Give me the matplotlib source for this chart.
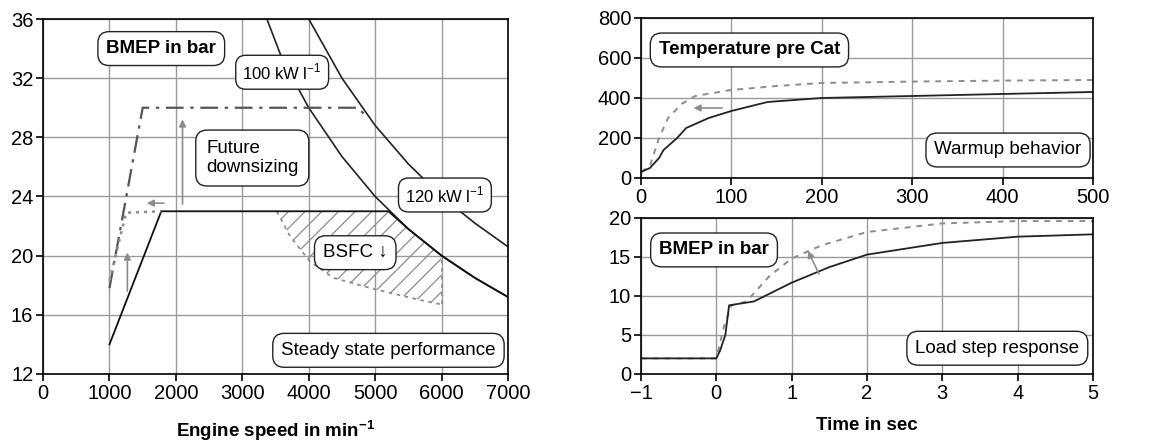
import matplotlib.pyplot as plt
from matplotlib.patches import Polygon

plt.rcParams['font.family'] = ['Liberation Sans', 'DejaVu Sans']
plt.rcParams['hatch.linewidth'] = 0.9

# ---- Steady state (left) ----
rpm_now = [1000, 1780, 5200, 5500, 6000, 6500, 7000]
bmep_now = [14.0, 23.0, 23.0, 21.8, 20.0, 18.5, 17.2]

rpm_future = [1000, 1500, 4730, 4880]
bmep_future = [17.8, 30.0, 30.0, 29.4]

rpm_dot = [1000, 1250, 1780]
bmep_dot = [18.3, 22.9, 23.0]

rpm_100 = [3370, 3600, 4000, 4500, 5000, 5500, 6000, 6500, 7000]
bmep_100 = [36.0, 33.3, 30.0, 26.7, 24.0, 21.8, 20.0, 18.5, 17.2]

rpm_120 = [4000, 4500, 5000, 5500, 6000, 6500, 7000]
bmep_120 = [36.0, 32.0, 28.8, 26.2, 24.0, 22.2, 20.6]

rpm_bsfc = [3520, 3720, 4020, 4370, 5020, 5680, 6000]
bmep_bsfc = [23.0, 21.3, 19.6, 18.5, 17.7, 17.0, 16.7]

# ---- Warmup (right top) ----
t_warm = [0, 10, 20, 25, 40, 50, 75, 100, 140, 200, 300, 400, 500]
temp_now = [30, 50, 100, 140, 200, 250, 300, 335, 380, 400, 410, 420, 430]
t_warm2 = [0, 10, 20, 30, 45, 60, 100, 150, 200, 300, 400, 500]
temp_new = [30, 60, 200, 300, 370, 410, 440, 460, 475, 482, 487, 490]

# ---- Load step (right bottom) ----
t_step = [-1, 0, 0.05, 0.12, 0.17, 0.5, 1.0, 1.5, 2.0, 3.0, 4.0, 5.0]
bmep_step = [2, 2, 3, 5, 8.8, 9.3, 11.7, 13.7, 15.3, 16.8, 17.6, 17.9]
t_step2 = [-1, 0, 0.1, 0.2, 0.4, 0.7, 1.0, 1.4, 2.0, 3.0, 4.0, 5.0]
bmep_step2 = [2, 2, 6, 8.8, 9.3, 12.5, 14.8, 16.5, 18.2, 19.3, 19.6, 19.6]

GRAY = '#8c8c8c'
BOX = dict(boxstyle='round,pad=0.45,rounding_size=0.6', fc='white', ec='#222222', lw=1.0)
FS = 13.5
TFS = 14.5


def style(ax):
    ax.grid(True, color='#9a9a9a', lw=1.0)
    ax.set_axisbelow(True)
    for s in ax.spines.values():
        s.set_linewidth(1.2)
    ax.tick_params(labelsize=TFS, length=5, width=1.2, direction='out', pad=2)


def arrow(ax, x0, y0, x1, y1):
    ax.annotate('', xy=(x1, y1), xytext=(x0, y0),
                arrowprops=dict(arrowstyle='-|>', color=GRAY, lw=1.2, mutation_scale=10))


fig = plt.figure(figsize=(11.66, 4.44), dpi=100)

# left
ax = fig.add_axes([0.0369, 0.1577, 0.3988, 0.7995])
style(ax)
bsfc_poly = list(zip(rpm_bsfc, bmep_bsfc)) + [(6000, 20.0), (5500, 21.8), (5200, 23.0)]
ax.add_patch(Polygon(bsfc_poly, closed=True, fill=False, hatch='//', ec=GRAY, lw=0))
ax.plot(rpm_bsfc, bmep_bsfc, color=GRAY, ls=(0, (2, 2.5)), lw=1.3)
ax.plot([6000, 6000], [16.7, 20.0], color=GRAY, ls=(0, (2, 2.5)), lw=1.3)
ax.plot(rpm_100, bmep_100, color='#222222', lw=1.2)
ax.plot(rpm_120, bmep_120, color='#222222', lw=1.2)
ax.plot(rpm_now, bmep_now, color='#111111', lw=1.3)
ax.plot(rpm_future, bmep_future, color='#555555', lw=1.6, ls=(0, (8, 3, 1.5, 3)))
ax.plot(rpm_dot, bmep_dot, color=GRAY, lw=1.8, ls=(0, (1.2, 2)))
arrow(ax, 1270, 17.4, 1270, 20.4)
arrow(ax, 1860, 23.55, 1520, 23.55)
arrow(ax, 2100, 23.3, 2100, 29.4)
ax.set_xlim(0, 7000)
ax.set_ylim(12, 36)
ax.set_xticks(range(0, 7001, 1000))
ax.set_yticks(range(12, 37, 4))
ax.set_xlabel('Engine speed in min$^{\\mathregular{-1}}$', fontsize=13.5, fontweight='bold', labelpad=11)
ax.text(1780, 34.0, 'BMEP in bar', fontsize=FS, fontweight='bold', ha='center', va='center', bbox=BOX)
ax.text(3600, 32.4, '100 kW l$^{\\mathregular{-1}}$', fontsize=12, ha='center', va='center',
        bbox=dict(BOX, boxstyle='round,pad=0.4,rounding_size=0.6'))
ax.text(3150, 26.6, 'Future\ndownsizing', fontsize=FS, ha='center', va='center', multialignment='left',
        linespacing=1.1, bbox=dict(BOX, boxstyle='round,pad=0.55,rounding_size=0.6'))
ax.text(6050, 24.1, '120 kW l$^{\\mathregular{-1}}$', fontsize=12, ha='center', va='center',
        bbox=dict(BOX, boxstyle='round,pad=0.4,rounding_size=0.6'))
ax.text(4700, 20.2, 'BSFC \u2193', fontsize=FS, ha='center', va='center', bbox=BOX)
ax.text(5200, 13.6, 'Steady state performance', fontsize=FS, ha='center', va='center', bbox=BOX)

# right top
ax2 = fig.add_axes([0.5497, 0.5991, 0.3877, 0.3604])
style(ax2)
ax2.plot(t_warm2, temp_new, color=GRAY, lw=1.4, ls=(0, (3, 3)))
ax2.plot(t_warm, temp_now, color='#222222', lw=1.3)
arrow(ax2, 93, 350, 55, 350)
ax2.set_xlim(0, 500)
ax2.set_ylim(0, 800)
ax2.set_xticks(range(0, 501, 100))
ax2.set_yticks(range(0, 801, 200))
ax2.text(120, 640, 'Temperature pre Cat', fontsize=FS, fontweight='bold', ha='center', va='center', bbox=BOX)
ax2.text(406, 140, 'Warmup behavior', fontsize=FS, ha='center', va='center', bbox=BOX)

# right bottom
ax3 = fig.add_axes([0.5497, 0.1577, 0.3877, 0.3514])
style(ax3)
ax3.plot(t_step2, bmep_step2, color=GRAY, lw=1.4, ls=(0, (3, 3)))
ax3.plot(t_step, bmep_step, color='#222222', lw=1.3)
arrow(ax3, 1.38, 12.5, 1.2, 16.1)
ax3.set_xlim(-1, 5)
ax3.set_ylim(0, 20)
ax3.set_xticks(range(-1, 6))
ax3.set_xticklabels(['\u22121', '0', '1', '2', '3', '4', '5'])
ax3.set_yticks(range(0, 21, 5))
ax3.set_xlabel('Time in sec', fontsize=13.5, fontweight='bold', labelpad=10)
ax3.text(-0.03, 15.9, 'BMEP in bar', fontsize=FS, fontweight='bold', ha='center', va='center', bbox=BOX)
ax3.text(3.73, 3.3, 'Load step response', fontsize=FS, ha='center', va='center', bbox=BOX)

fig.savefig('out.png', dpi=100)
